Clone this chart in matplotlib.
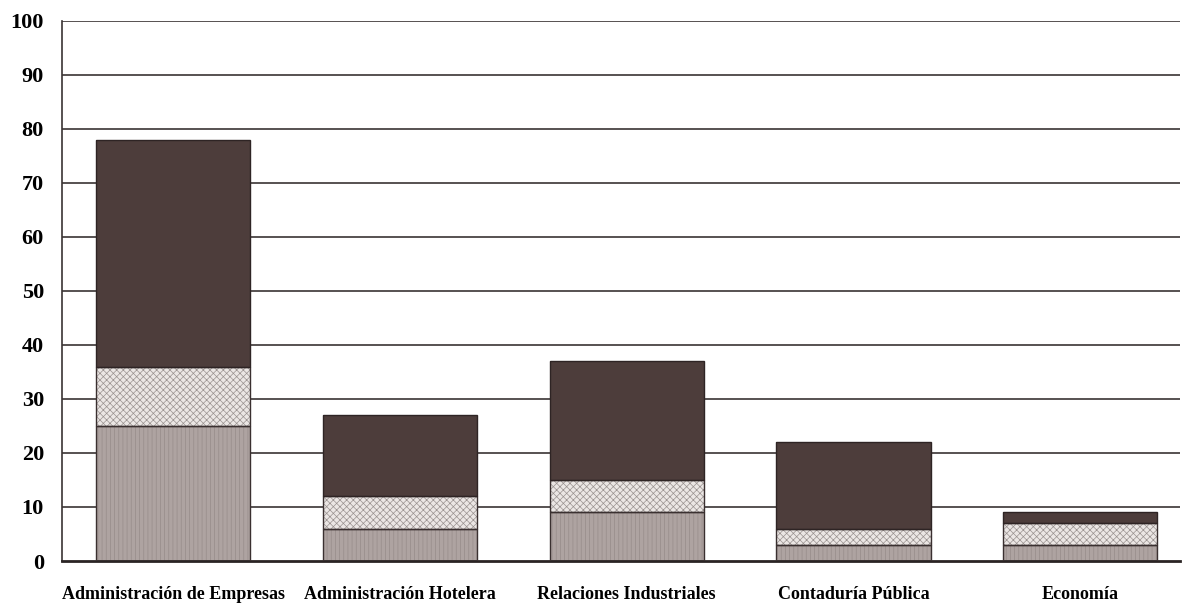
import matplotlib.pyplot as plt
import numpy as np

categorias = ['Administración de Empresas', 'Administración Hotelera',
              'Relaciones Industriales', 'Contaduría Pública', 'Economía']
# tres tramos apilados por carrera
tramo_bajo = [25, 6, 9, 3, 3]
tramo_medio = [11, 6, 6, 3, 4]
tramo_alto = [42, 15, 22, 16, 2]

plt.rcParams['font.family'] = ['Liberation Serif', 'DejaVu Serif']
plt.rcParams['hatch.linewidth'] = 0.5

fig = plt.figure(figsize=(11.85, 6.08), dpi=100)
ax = fig.add_axes([0.0523, 0.0773, 0.9435, 0.8882])

x = np.arange(len(categorias))
ancho = 0.68
base = np.array(tramo_bajo) + np.array(tramo_medio)

# rejilla horizontal
for y in range(10, 101, 10):
    ax.axhline(y, color='#3a3434', lw=1.2, zorder=1)

# relleno con trama (el color de la trama sale del edgecolor)
ax.bar(x, tramo_bajo, ancho, color='#aea3a1', edgecolor='#978c8a',
       hatch='||||', lw=0, zorder=2)
ax.bar(x, tramo_medio, ancho, bottom=tramo_bajo, color='#ebe6e4',
       edgecolor='#9a9290', hatch='xxxxx', lw=0, zorder=2)
ax.bar(x, tramo_alto, ancho, bottom=base, color='#4d3d3b',
       edgecolor='#4d3d3b', lw=0, zorder=2)

# contornos
ax.bar(x, tramo_bajo, ancho, fill=False, edgecolor='#3a3030', lw=1.0, zorder=3)
ax.bar(x, tramo_medio, ancho, bottom=tramo_bajo, fill=False,
       edgecolor='#3a3030', lw=1.0, zorder=3)
ax.bar(x, tramo_alto, ancho, bottom=base, fill=False,
       edgecolor='#2e2424', lw=1.0, zorder=3)

ax.set_xlim(-0.49, 4.44)
ax.set_ylim(0, 100)
ax.set_yticks(range(0, 101, 10))
ax.set_xticks(x)
ax.set_xticklabels(categorias, fontsize=13, fontweight='bold')
ax.tick_params(axis='y', length=0, pad=13, labelsize=16)
ax.tick_params(axis='x', length=0, pad=18)
for lab in ax.get_yticklabels():
    lab.set_fontweight('bold')

for s in ['top', 'right']:
    ax.spines[s].set_visible(False)
ax.spines['left'].set_color('#3a3434')
ax.spines['left'].set_linewidth(1.2)
ax.spines['bottom'].set_color('#2a2424')
ax.spines['bottom'].set_linewidth(2.0)

fig.savefig('out.png', dpi=100)
